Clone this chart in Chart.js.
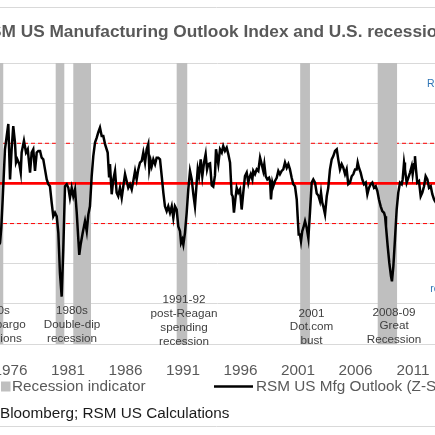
<!DOCTYPE html>
<html><head><meta charset="utf-8">
<script src="https://cdn.jsdelivr.net/npm/chart.js@4.4.1/dist/chart.umd.min.js"></script>
<style>
html,body{margin:0;padding:0;width:435px;height:435px;overflow:hidden;background:#fff;}
#wrap{position:absolute;left:-100px;top:0;width:633px;height:435px;}
</style></head><body>
<div id="wrap"><canvas id="c"></canvas></div>
<script>
// ---- data (decimal years) ----
const outlookDates = [
1974.95,1975.09,1975.20,1975.32,1975.52,1975.67,1975.81,1975.96,1976.10,1976.24,1976.39,1976.48,1976.59,1976.77,1976.89,1976.97,
1977.17,1977.35,1977.50,1977.70,1977.84,1977.98,1978.13,1978.28,1978.42,1978.57,1978.71,1978.85,1979.00,1979.15,1979.29,1979.43,
1979.58,1979.72,1979.87,1980.02,1980.16,1980.30,1980.45,1980.59,1980.74,1980.89,1981.03,1981.17,1981.32,1981.46,1981.61,1981.76,
1981.90,1981.98,1982.10,1982.28,1982.39,1982.48,1982.63,1982.77,1982.91,1983.06,1983.20,1983.35,1983.50,1983.63,1983.78,1983.93,
1984.07,1984.22,1984.45,1984.57,1984.65,1984.80,1984.94,1985.09,1985.23,1985.37,1985.52,1985.67,1985.81,1985.96,1986.10,1986.24,
1986.39,1986.54,1986.68,1986.83,1986.97,1987.11,1987.26,1987.41,1987.55,1987.70,1987.84,1987.98,1988.07,1988.19,1988.28,1988.42,
1988.57,1988.71,1988.85,1989.00,1989.15,1989.29,1989.43,1989.58,1989.72,1989.87,1990.02,1990.16,1990.30,1990.45,1990.59,1990.74,
1990.83,1990.94,1991.03,1991.17,1991.32,1991.46,1991.61,1991.76,1991.90,1992.04,1992.19,1992.28,1992.39,1992.54,1992.68,1992.83,
1992.97,1993.09,1993.20,1993.35,1993.50,1993.63,1993.78,1993.87,1993.98,1994.07,1994.22,1994.37,1994.50,1994.65,1994.80,1994.94,
1995.09,1995.23,1995.32,1995.43,1995.55,1995.67,1995.81,1995.96,1996.10,1996.24,1996.39,1996.54,1996.68,1996.77,1996.89,1997.03,
1997.11,1997.26,1997.41,1997.55,1997.70,1997.84,1997.98,1998.07,1998.19,1998.33,1998.48,1998.57,1998.65,1998.77,1998.85,1999.00,
1999.15,1999.29,1999.43,1999.58,1999.72,1999.87,2000.02,2000.16,2000.30,2000.45,2000.59,2000.74,2000.89,2000.97,2001.06,2001.17,
2001.26,2001.37,2001.46,2001.61,2001.76,2001.90,2002.04,2002.19,2002.33,2002.48,2002.63,2002.77,2002.91,2003.00,2003.11,2003.20,
2003.35,2003.50,2003.63,2003.78,2003.93,2004.07,2004.22,2004.37,2004.50,2004.65,2004.80,2004.94,2005.09,2005.23,2005.37,2005.52,
2005.67,2005.81,2005.96,2006.10,2006.19,2006.30,2006.45,2006.59,2006.74,2006.89,2007.03,2007.17,2007.32,2007.46,2007.61,2007.76,
2007.90,2008.04,2008.19,2008.33,2008.48,2008.57,2008.65,2008.80,2008.94,2009.09,2009.17,2009.29,2009.43,2009.58,2009.72,2009.87,
2010.02,2010.10,2010.22,2010.30,2010.45,2010.59,2010.74,2010.89,2010.97,2011.09,2011.17,2011.26,2011.37,2011.52,2011.67,2011.81,
2011.96,2012.10,2012.25,2012.39,2012.54,2012.68,2012.83,2012.91,2013.00
];
const outlookZ = [
-1.55,-1.48,-1.10,-0.40,0.85,1.18,1.48,0.10,0.85,1.43,1.02,0.52,0.60,0.48,0.27,0.77,
1.06,0.77,0.85,0.27,0.77,0.85,0.31,0.77,0.81,0.81,0.64,0.60,0.35,0.10,-0.02,-0.07,
-0.48,-0.82,-0.73,-0.82,-1.23,-2.23,-2.82,-1.65,-0.07,-0.02,-0.11,-0.36,-0.11,-0.32,-0.15,-0.73,
-1.40,-1.78,-1.52,-1.23,-1.07,-0.94,-1.19,-0.77,-0.57,0.18,0.68,1.02,1.14,1.27,1.39,1.18,
1.18,0.98,0.77,0.18,0.48,-0.27,0.10,0.31,-0.23,-0.32,-0.11,-0.36,-0.07,0.23,0.06,-0.11,
-0.02,-0.15,0.06,0.31,0.10,0.35,0.52,0.56,0.77,0.52,0.85,0.98,0.35,0.56,0.43,0.60,
0.48,0.64,0.64,0.60,0.18,-0.23,-0.57,-0.69,-0.57,-0.73,-0.57,-0.86,-0.57,-0.65,-1.07,-1.19,
-1.48,-1.40,-1.52,-1.23,-0.73,-0.15,0.31,0.10,-0.27,-0.57,0.02,0.35,0.18,0.60,0.18,0.52,
0.73,0.35,0.48,0.50,-0.05,-0.08,0.20,0.85,0.64,0.48,0.85,0.77,0.93,0.81,0.89,0.73,
0.52,-0.27,-0.32,-0.73,-0.40,-0.11,-0.23,-0.15,-0.65,-0.23,0.18,0.27,0.02,0.14,0.23,0.10,
0.31,0.23,0.35,0.31,0.64,0.48,0.31,0.48,0.18,0.10,0.14,0.06,-0.40,0.02,-0.07,0.06,
0.14,0.31,0.23,0.31,0.35,0.52,0.39,0.48,0.35,0.14,-0.02,-0.07,-0.40,-0.82,-1.27,-1.27,
-1.44,-1.19,-1.11,-0.94,-1.11,-1.36,-0.73,0.02,0.10,0.02,-0.25,-0.30,-0.44,-0.23,-0.48,-0.57,
-0.77,-0.32,-0.11,0.35,0.60,0.68,0.81,0.85,0.60,0.35,0.48,0.39,0.23,0.35,-0.02,0.02,
0.18,0.23,0.35,0.35,0.52,0.39,0.27,0.10,-0.02,0.02,-0.27,-0.11,-0.02,0.02,-0.11,-0.07,
-0.19,-0.40,-0.57,-0.69,-0.73,-0.82,-1.07,-1.57,-1.98,-2.32,-2.44,-2.07,-1.40,-0.65,-0.23,0.02,
-0.02,0.10,0.52,0.35,0.02,0.14,0.27,0.43,0.23,0.48,0.68,0.35,0.02,0.06,-0.32,-0.23,
-0.07,0.18,0.10,-0.11,-0.07,-0.27,-0.40,-0.44,-0.46
];
const recessionStart = [1973.83, 1979.93, 1981.46, 1990.45, 2001.19, 2007.93];
const recessionEnd   = [1975.37, 1980.68, 1983.00, 1991.37, 2002.04, 2009.63];
const tickYears  = [1971, 1976, 1981, 1986, 1991, 1996, 2001, 2006, 2011, 2016];
const tickLabels = ['1971','1976','1981','1986','1991','1996','2001','2006','2011','2016'];
const zeroLevel = 0;
const bandLevels = [1, -1];
const xMin = 1969.87, xMax = 2018.13;

const annotations = [
  {year: 1974.55, top: 310.7, lines: ['1970s', 'Oil embargo', 'recessions']},
  {year: 1981.35, top: 310.7, lines: ['1980s', 'Double-dip', 'recession']},
  {year: 1991.09, top: 300.0, lines: ['1991-92', 'post-Reagan', 'spending', 'recession']},
  {year: 2002.17, top: 313.4, lines: ['2001', 'Dot.com', 'bust']},
  {year: 2009.35, top: 312.3, lines: ['2008-09', 'Great', 'Recession']}
];

const FONT = '"Liberation Sans", Arial, Helvetica, sans-serif';
const OFFSET = 100; // canvas is shifted left by this many px

const recessionPoints = [];
recessionStart.forEach((s, i) => {
  const e = recessionEnd[i];
  recessionPoints.push({x: s, y: 0}, {x: s, y: 1}, {x: e, y: 1}, {x: e, y: 0});
});

const decor = {
  id: 'decor',
  afterDatasetsDraw(chart) {
    const {ctx, scales: {x}} = chart;
    ctx.save();
    ctx.font = '11.7px ' + FONT;
    ctx.fillStyle = '#404040';
    ctx.textAlign = 'center';
    ctx.textBaseline = 'middle';
    annotations.forEach(a => {
      const cx = x.getPixelForValue(a.year);
      a.lines.forEach((t, i) => ctx.fillText(t, cx, a.top + i * 13.8));
    });
    ctx.restore();
  },
  afterDraw(chart) {
    const ctx = chart.ctx;
    const W = chart.width;
    ctx.save();
    // frame lines
    ctx.strokeStyle = '#d9d9d9';
    ctx.lineWidth = 1;
    ctx.beginPath();
    ctx.moveTo(0, 7.5); ctx.lineTo(W, 7.5);
    ctx.moveTo(0, 426.5); ctx.lineTo(W, 426.5);
    ctx.stroke();
    // legend
    ctx.fillStyle = '#bfbfbf';
    ctx.fillRect(OFFSET + 1, 381.5, 9.5, 10);
    ctx.font = '15.3px ' + FONT;
    ctx.fillStyle = '#595959';
    ctx.textAlign = 'left';
    ctx.textBaseline = 'middle';
    ctx.fillText('Recession indicator', OFFSET + 12, 386.8);
    ctx.strokeStyle = '#000';
    ctx.lineWidth = 2.5;
    ctx.beginPath();
    ctx.moveTo(OFFSET + 214, 386.5); ctx.lineTo(OFFSET + 253, 386.5);
    ctx.stroke();
    ctx.fillText('RSM US Mfg Outlook (Z-Score)', OFFSET + 256, 386.8);
    // source
    ctx.fillStyle = '#1a1a1a';
    ctx.fillText('Source: Bloomberg; RSM US Calculations', OFFSET - 57, 413.3);
    // blue side notes
    ctx.font = '10.5px ' + FONT;
    ctx.fillStyle = '#2f75b5';
    ctx.textBaseline = 'alphabetic';
    ctx.fillText('Robust growth', OFFSET + 427, 86.7);
    ctx.fillText('recession risk', OFFSET + 430.2, 291.7);
    ctx.restore();
  }
};

new Chart(document.getElementById('c'), {
  type: 'line',
  data: {
    datasets: [
      {label: 'RSM US Mfg Outlook (Z-Score)', data: outlookDates.map((d, i) => ({x: d, y: outlookZ[i]})),
       borderColor: '#000', borderWidth: 2.5, pointRadius: 0, tension: 0, order: 0, yAxisID: 'y'},
      {label: 'Zero', data: [{x: xMin, y: zeroLevel}, {x: xMax, y: zeroLevel}],
       borderColor: '#ff0000', borderWidth: 2.75, pointRadius: 0, order: 1, yAxisID: 'y'},
      {label: 'Recession indicator', data: recessionPoints, yAxisID: 'y2', fill: 'origin',
       backgroundColor: '#bfbfbf', borderColor: 'rgba(0,0,0,0)', borderWidth: 0, pointRadius: 0, order: 2},
      {label: '+1 SD', data: [{x: xMin, y: bandLevels[0]}, {x: xMax, y: bandLevels[0]}],
       borderColor: '#ff0000', borderWidth: 1, borderDash: [4, 3], pointRadius: 0, order: 3, yAxisID: 'y'},
      {label: '-1 SD', data: [{x: xMin, y: bandLevels[1]}, {x: xMax, y: bandLevels[1]}],
       borderColor: '#ff0000', borderWidth: 1, borderDash: [4, 3], pointRadius: 0, order: 3, yAxisID: 'y'}
    ]
  },
  options: {
    responsive: true, maintainAspectRatio: false, animation: false,
    layout: {padding: {left: 40, right: 38, top: 0, bottom: 0}},
    plugins: {
      legend: {display: false},
      tooltip: {enabled: false},
      title: {display: true, text: 'RSM US Manufacturing Outlook Index and U.S. recessions',
        color: '#595959', font: {family: FONT, size: 17.3, weight: 'bold'},
        padding: {top: 22.1, bottom: 20.14}}
    },
    scales: {
      x: {type: 'linear', min: xMin, max: xMax,
        grid: {display: false},
        border: {display: true, color: '#d9d9d9'},
        ticks: {color: '#595959', font: {family: FONT, size: 15.3}, padding: 9.3, autoSkip: false, maxRotation: 0,
          callback: (v) => { const i = tickYears.indexOf(v); return i >= 0 ? tickLabels[i] : ''; }},
        afterBuildTicks: (s) => { s.ticks = tickYears.map(v => ({value: v})); },
        afterFit: (s) => { s.height = 91; }
      },
      y: {min: -4, max: 3, ticks: {display: false, stepSize: 1},
        grid: {color: '#d9d9d9', drawTicks: false}, border: {display: false},
        afterFit: (s) => { s.width = 0; }
      },
      y2: {display: false, min: 0, max: 1}
    }
  },
  plugins: [decor]
});
</script>
</body></html>
